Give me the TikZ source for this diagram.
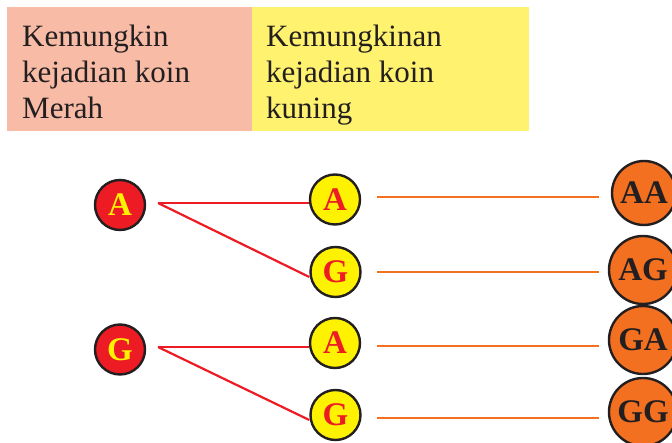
\documentclass[tikz,border=0pt]{standalone}
\usepackage{fontspec}
\setmainfont{Liberation Serif}
\definecolor{dark}{HTML}{231F20}
\definecolor{pinkbg}{HTML}{F8BBA5}
\definecolor{yellowbg}{HTML}{FFF26E}
\definecolor{coinred}{HTML}{ED1C24}
\definecolor{coinyellow}{HTML}{FFF200}
\definecolor{coinorange}{HTML}{F37021}
\tikzset{
  head/.style={anchor=north west, inner sep=0pt, align=left, text=dark,
    font=\fontsize{31}{36}\selectfont},
  coin/.style={circle, draw=dark, line width=2.4pt, inner sep=0pt,
    font=\fontsize{33}{34}\selectfont\bfseries},
  redcoin/.style={coin, fill=coinred, text=coinyellow, minimum size=50pt},
  yelcoin/.style={coin, fill=coinyellow, text=coinred, minimum size=50pt},
  orcoin/.style={coin, fill=coinorange, text=dark, minimum size=68pt},
  redline/.style={draw=coinred, line width=2.2pt},
  orline/.style={draw=coinorange, line width=2.2pt},
}
\begin{document}
\begin{tikzpicture}[x=1pt,y=-1pt]
\useasboundingbox (0,0) rectangle (672,443);
\fill[pinkbg] (7,7) rectangle (252,131);
\fill[yellowbg] (252,7) rectangle (529,131);
\node[head] (h1) at (22,25) {Kemungkin\\kejadian koin\\Merah};
\node[head] (h2) at (266,25) {Kemungkinan\\kejadian koin\\kuning};

\node[redcoin] (rA) at (120,205) {A};
\node[redcoin] (rG) at (120,349.5) {G};

\node[yelcoin] (yA1) at (335,199.5) {A};
\node[yelcoin] (yG1) at (335.5,272) {G};
\node[yelcoin] (yA2) at (335,343) {A};
\node[yelcoin] (yG2) at (335.5,415) {G};

\node[orcoin, minimum size=64pt] (oAA) at (644,193) {AA};
\node[orcoin] (oAG) at (643,270) {AG};
\node[orcoin] (oGA) at (643,340) {GA};
\node[orcoin] (oGG) at (643,412) {GG};

\coordinate (sA) at (158,203);
\coordinate (sG) at (158,347);
\draw[redline] (sA) -- (yA1.west |- sA);
\draw[redline] (sA) -- (yG1.west |- 0,277);
\draw[redline] (sG) -- (yA2.west |- sG);
\draw[redline] (sG) -- (yG2.west |- 0,420);

\coordinate (e1) at (377,197);
\coordinate (e2) at (377,272);
\coordinate (e3) at (377,346);
\coordinate (e4) at (377,418);
\draw[orline] (e1) -- (599,197);
\draw[orline] (e2) -- (599,272);
\draw[orline] (e3) -- (599,346);
\draw[orline] (e4) -- (599,418);
\end{tikzpicture}
\end{document}
